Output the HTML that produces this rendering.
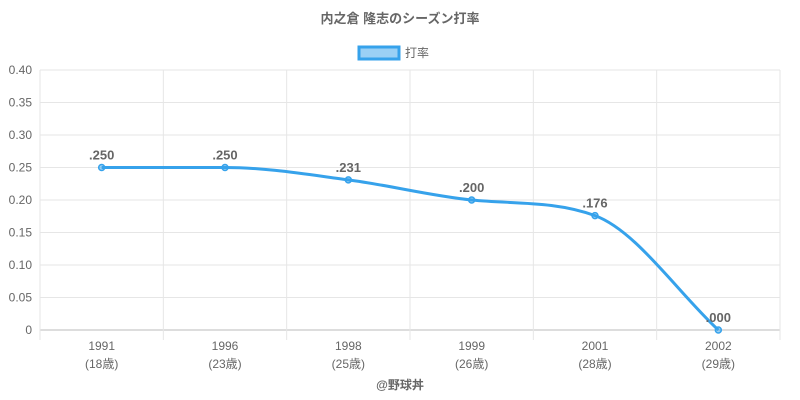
<!DOCTYPE html>
<html><head><meta charset="utf-8"><style>
body{margin:0;background:#fff;width:800px;height:400px;overflow:hidden}
svg{display:block;font-family:"Liberation Sans","Noto Sans CJK JP",sans-serif}
</style></head><body>
<svg id="c" width="800" height="400">
<text x="400" y="23" text-anchor="middle" font-size="13" font-weight="bold" fill="#666">内之倉 隆志のシーズン打率</text>
<g>
<rect x="359" y="47" width="40" height="12" fill="rgba(54,162,235,0.5)" stroke="#36a2eb" stroke-width="3"/>
<text x="405" y="57" font-size="12" fill="#666">打率</text>
</g>
<g id="grid"></g><g id="marks"></g>
<text x="400" y="389" text-anchor="middle" font-size="12" font-weight="bold" fill="#666">@野球丼</text>
</svg>
<script>
const categories=["1991","1996","1998","1999","2001","2002"];
const ages=["(18歳)","(23歳)","(25歳)","(26歳)","(28歳)","(29歳)"];
const values=[0.250,0.250,0.231,0.200,0.176,0.000];
const labels=[".250",".250",".231",".200",".176",".000"];
const yTicks=[0,0.05,0.1,0.15,0.2,0.25,0.3,0.35,0.4];
const yTickLabels=["0","0.05","0.10","0.15","0.20","0.25","0.30","0.35","0.40"];
const L=40,R=780,T=70,B=330,ns="http://www.w3.org/2000/svg";
const bw=(R-L)/categories.length;
const x=i=>L+bw*(i+0.5), y=v=>B-(v/0.4)*(B-T);
function el(p,t,a,txt){const e=document.createElementNS(ns,t);for(const k in a)e.setAttribute(k,a[k]);if(txt!=null)e.textContent=txt;p.appendChild(e);return e;}
const g=document.getElementById('grid'),m=document.getElementById('marks');
yTicks.forEach((v,i)=>{
 const l=el(g,'line',{x1:L,x2:R,y1:y(v),y2:y(v),stroke:i==0?'#bbb':'#e6e6e6'});
 
 
 const t=el(g,'text',{x:L-8,y:y(v)+4,'text-anchor':'end','font-size':12,fill:'#666'},yTickLabels[i]);
 
 
});
for(let i=0;i<=categories.length;i++){
 const l=el(g,'line',{x1:L+bw*i,x2:L+bw*i,y1:T,y2:B+10,stroke:'#e6e6e6'});
 
 
}
categories.forEach((c,i)=>{
 const t=el(g,'text',{x:x(i),y:350,'text-anchor':'middle','font-size':12,fill:'#666'},c);
 
 
 const a=el(g,'text',{x:x(i),y:368,'text-anchor':'middle','font-size':12,fill:'#666'},ages[i]);
 
 
});
// monotone cubic
const px=values.map((v,i)=>x(i)),py=values.map(v=>y(v)),n=values.length;
const d=[],mm=[];
for(let i=0;i<n-1;i++)d.push((py[i+1]-py[i])/(px[i+1]-px[i]));
for(let i=0;i<n;i++){
 if(i==0)mm.push(d[0]);else if(i==n-1)mm.push(d[n-2]);
 else mm.push(d[i-1]*d[i]<=0?0:(d[i-1]+d[i])/2);
}
for(let i=0;i<n-1;i++){
 if(d[i]==0){mm[i]=0;mm[i+1]=0;continue;}
 const a=mm[i]/d[i],b=mm[i+1]/d[i],s=a*a+b*b;
 if(s>9){const t=3/Math.sqrt(s);mm[i]=t*a*d[i];mm[i+1]=t*b*d[i];}
}
let p=`M${px[0]},${py[0]}`;
for(let i=0;i<n-1;i++){const h=(px[i+1]-px[i])/3;
 p+=` C${px[i]+h},${py[i]+h*mm[i]} ${px[i+1]-h},${py[i+1]-h*mm[i+1]} ${px[i+1]},${py[i+1]}`;}
const line=el(m,'path',{d:p,fill:'none',stroke:'#36a2eb','stroke-width':3});


values.forEach((v,i)=>{
 const c=el(m,'circle',{cx:x(i),cy:y(v),r:3,fill:'rgba(54,162,235,0.5)',stroke:'#36a2eb','stroke-width':1.5});
 
 
 const t=el(m,'text',{x:x(i),y:y(v)-8,'text-anchor':'middle','font-size':13,'font-weight':'bold',fill:'#666'},labels[i]);
 
 
});
</script>
</body></html>
